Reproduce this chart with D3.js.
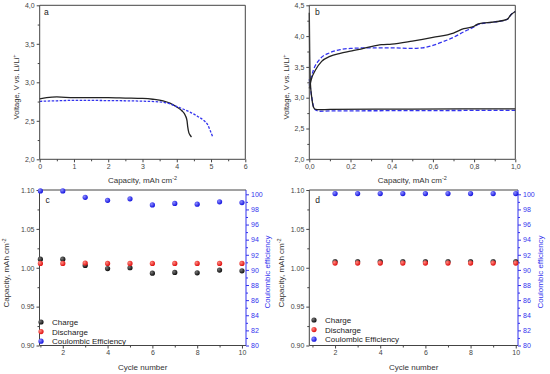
<!DOCTYPE html>
<html>
<head>
<meta charset="utf-8">
<script src="https://cdn.jsdelivr.net/npm/d3@7"></script>
<style>
body { margin: 0; background: #fff; }
text { font-family: "Liberation Sans", Arial, sans-serif; }
</style>
</head>
<body>
<script>
// panel a: discharge curves (capacity, voltage)
var aSolid = [[0, 2.785], [0.2, 2.80], [0.5, 2.81], [1.0, 2.80], [1.5, 2.80], [2.0, 2.80], [2.5, 2.795], [3.0, 2.79], [3.3, 2.78], [3.6, 2.76], [3.8, 2.73], [4.0, 2.68], [4.15, 2.63], [4.25, 2.57], [4.3, 2.5], [4.32, 2.42], [4.35, 2.35], [4.38, 2.32], [4.43, 2.29]];
var aDash = [[0, 2.753], [0.5, 2.76], [1.0, 2.765], [1.5, 2.765], [2.0, 2.762], [2.5, 2.76], [3.0, 2.755], [3.5, 2.745], [3.8, 2.72], [4.0, 2.685], [4.2, 2.65], [4.4, 2.61], [4.6, 2.56], [4.8, 2.5], [4.9, 2.45], [4.97, 2.38], [5.05, 2.29]];

// panel b: charge / discharge curves
var bSolidDis = [[0, 4.38], [0.002, 3.7], [0.005, 3.25], [0.012, 3.0], [0.02, 2.85], [0.03, 2.81], [0.05, 2.805], [0.1, 2.81], [0.5, 2.815], [1.0, 2.82]];
var bDashDis = [[0, 3.3], [0.01, 3.05], [0.02, 2.86], [0.03, 2.8], [0.05, 2.78], [0.1, 2.785], [0.5, 2.79], [1.0, 2.795]];
var bSolidCha = [[0, 3.15], [0.01, 3.3], [0.03, 3.45], [0.06, 3.59], [0.1, 3.67], [0.15, 3.72], [0.2, 3.755], [0.25, 3.79], [0.3, 3.83], [0.35, 3.86], [0.4, 3.87], [0.5, 3.92], [0.6, 3.98], [0.7, 4.05], [0.75, 4.12], [0.8, 4.16], [0.82, 4.2], [0.9, 4.23], [0.96, 4.27], [0.98, 4.35], [1.0, 4.4]];
var bDashCha = [[0, 3.2], [0.02, 3.45], [0.05, 3.62], [0.1, 3.73], [0.15, 3.78], [0.2, 3.8], [0.3, 3.81], [0.4, 3.81], [0.5, 3.8], [0.55, 3.81], [0.6, 3.85], [0.65, 3.91], [0.7, 3.98], [0.75, 4.07], [0.8, 4.15], [0.82, 4.19], [0.9, 4.23], [0.96, 4.27], [0.98, 4.35], [1.0, 4.4]];

// panel c: cycling
var cCycles = [1, 2, 3, 4, 5, 6, 7, 8, 9, 10];
var cCharge = [1.011, 1.011, 1.003, 0.999, 1.000, 0.993, 0.994, 0.9935, 0.997, 0.996];
var cDischarge = [1.0055, 1.0055, 1.006, 1.0055, 1.0055, 1.0055, 1.0055, 1.0055, 1.0055, 1.0055];
var cCE = [100.45, 100.45, 99.6, 99.2, 99.4, 98.6, 98.8, 98.7, 99.0, 98.9];

// panel d: cycling
var dCycles = [2, 3, 4, 5, 6, 7, 8, 9, 10];
var dCharge = [1.008, 1.008, 1.008, 1.008, 1.008, 1.008, 1.008, 1.008, 1.008];
var dDischarge = [1.006, 1.006, 1.006, 1.006, 1.006, 1.006, 1.006, 1.006, 1.006];
var dCE = [100.1, 100.1, 100.1, 100.1, 100.1, 100.1, 100.1, 100.1, 100.1];

var legendNames = ['Charge', 'Discharge', 'Coulombic Efficiency'];

var W = 550, H = 374;
var axisCol = '#444', blue = '#3333ee';
var fsTitle = 8, fsTick = 7;
var svg = d3.select('body').append('svg').attr('width', W).attr('height', H);

// shaded balls like origin scatter
var defs = svg.append('defs');
[['ballK', '#777', '#111'], ['ballR', '#ff8a80', '#e01010'], ['ballB', '#8c8cff', '#1515e0']].forEach(function (b) {
    var gr = defs.append('radialGradient').attr('id', b[0]).attr('cx', '35%').attr('cy', '35%').attr('r', '65%');
    gr.append('stop').attr('offset', '0%').attr('stop-color', b[1]);
    gr.append('stop').attr('offset', '100%').attr('stop-color', b[2]);
});

function comma(d) { return d3.format('.1f')(d).replace('.', ','); }

function styleAxis(g, col, fs) {
    g.select('.domain').remove();
    g.selectAll('line').attr('stroke', col);
    g.selectAll('text').attr('fill', col).style('font-size', fs + 'px');
}

function xAxis(x, y1, major, minor, fmt) {
    var g = svg.append('g').attr('transform', 'translate(0,' + y1 + ')')
        .call(d3.axisBottom(x).tickValues(major).tickSize(3).tickPadding(2).tickFormat(fmt));
    styleAxis(g, axisCol, fsTick);
    var m = svg.append('g').attr('transform', 'translate(0,' + y1 + ')')
        .call(d3.axisBottom(x).tickValues(minor).tickSize(2).tickFormat(''));
    styleAxis(m, axisCol, fsTick);
}

function yAxis(y, x0, major, minor, fmt, right, col) {
    var ax = right ? d3.axisRight : d3.axisLeft;
    var g = svg.append('g').attr('transform', 'translate(' + x0 + ',0)')
        .call(ax(y).tickValues(major).tickSize(3).tickPadding(2).tickFormat(fmt));
    styleAxis(g, col, fsTick);
    var m = svg.append('g').attr('transform', 'translate(' + x0 + ',0)')
        .call(ax(y).tickValues(minor).tickSize(2).tickFormat(''));
    styleAxis(m, col, fsTick);
}

function frame(x0, x1, y0, y1, rightCol) {
    svg.append('path').attr('d', 'M' + x1 + ',' + y0 + 'H' + x0 + 'V' + y1 + 'H' + x1)
        .attr('fill', 'none').attr('stroke', axisCol).attr('stroke-width', 1);
    svg.append('line').attr('x1', x1).attr('x2', x1).attr('y1', y0).attr('y2', y1)
        .attr('stroke', rightCol || axisCol).attr('stroke-width', 1);
}

function label(x, y, txt) {
    svg.append('text').attr('x', x).attr('y', y).attr('font-size', 8.5).attr('fill', '#222').text(txt);
}

function capTitle(cx, cy, rot, col) {
    var t = svg.append('text').attr('text-anchor', 'middle').attr('font-size', fsTitle).attr('fill', col)
        .attr('transform', 'translate(' + cx + ',' + cy + ')' + (rot ? ' rotate(-90)' : ''));
    t.append('tspan').text('Capacity, mAh cm');
    t.append('tspan').attr('baseline-shift', 'super').attr('font-size', 5.5).text('-2');
}

function voltTitle(cx, cy) {
    var t = svg.append('text').attr('text-anchor', 'middle').attr('font-size', 7.5).attr('fill', '#333')
        .attr('transform', 'translate(' + cx + ',' + cy + ') rotate(-90)');
    t.append('tspan').text('Voltage, V vs. Li/Li');
    t.append('tspan').attr('baseline-shift', 'super').attr('font-size', 5.5).text('+');
}

function curve(x, y, data, col, dash) {
    var line = d3.line().x(function (d) { return x(d[0]); }).y(function (d) { return y(d[1]); }).curve(d3.curveMonotoneX);
    svg.append('path').datum(data).attr('d', line).attr('fill', 'none').attr('stroke', col)
        .attr('stroke-width', 1.3).attr('stroke-dasharray', dash || null);
}

// ---------- panel a ----------
var ax0 = 39.7, ax1 = 245.3, ay0 = 5.3, ay1 = 159.3;
var xa = d3.scaleLinear().domain([0, 6]).range([ax0, ax1]);
var ya = d3.scaleLinear().domain([2, 4]).range([ay1, ay0]);
curve(xa, ya, aSolid, '#222');
curve(xa, ya, aDash, blue, '2.5,1.5');
frame(ax0, ax1, ay0, ay1);
xAxis(xa, ay1, d3.range(0, 7, 1), d3.range(0.5, 6, 1), d3.format('d'));
yAxis(ya, ax0, d3.range(2, 4.01, 0.5), d3.range(2.25, 4, 0.5), comma, false, axisCol);
label(44, 15, 'a');
capTitle((ax0 + ax1) / 2, 183, false, '#333');
voltTitle(19, 87);

// ---------- panel b ----------
var bx0 = 309.3, bx1 = 515.3;
var xb = d3.scaleLinear().domain([0, 1]).range([bx0, bx1]);
var yb = d3.scaleLinear().domain([2, 4.5]).range([ay1, ay0]);
curve(xb, yb, bDashDis, blue, '4,2');
curve(xb, yb, bDashCha, blue, '4,2');
curve(xb, yb, bSolidDis, '#222');
curve(xb, yb, bSolidCha, '#222');
frame(bx0, bx1, ay0, ay1);
xAxis(xb, ay1, d3.range(0, 1.01, 0.2), d3.range(0.1, 1, 0.2), comma);
yAxis(yb, bx0, d3.range(2, 4.51, 0.5), d3.range(2.25, 4.5, 0.5), comma, false, axisCol);
label(315, 15, 'b');
capTitle((bx0 + bx1) / 2, 183, false, '#333');
voltTitle(289, 87);

// ---------- cycling panels ----------
var cy0 = 190, cy1 = 345.5;

function cyclePanel(x0, x1, xDom, cycles, charge, discharge, ce, legX, legY, letter, majorX, leftTitleX, rightTitleX) {
    var x = d3.scaleLinear().domain(xDom).range([x0, x1]);
    var y = d3.scaleLinear().domain([0.9, 1.1]).range([cy1, cy0]);
    var yr = d3.scaleLinear().domain([80, 100.57]).range([cy1, cy0]);
    frame(x0, x1, cy0, cy1, blue);
    xAxis(x, cy1, majorX, [1, 3, 5, 7, 9], d3.format('d'));
    yAxis(y, x0, d3.range(0.9, 1.101, 0.05), d3.range(0.925, 1.1, 0.05), d3.format('.2f'), false, axisCol);
    yAxis(yr, x1, d3.range(80, 100.1, 2), d3.range(81, 100, 2), d3.format('d'), true, blue);

    var series = [[charge, y, 'url(#ballK)'], [discharge, y, 'url(#ballR)'], [ce, yr, 'url(#ballB)']];
    series.forEach(function (s) {
        svg.append('g').selectAll('circle').data(cycles).enter().append('circle')
            .attr('cx', function (d) { return x(d); })
            .attr('cy', function (d, i) { return s[1](s[0][i]); })
            .attr('r', 2.6).attr('fill', s[2]);
    });

    legendNames.forEach(function (n, i) {
        var fills = ['url(#ballK)', 'url(#ballR)', 'url(#ballB)'];
        svg.append('circle').attr('cx', legX).attr('cy', legY + i * 9.6).attr('r', 2.6).attr('fill', fills[i]);
        svg.append('text').attr('x', legX + 11).attr('y', legY + i * 9.6 + 3).attr('font-size', fsTitle)
            .attr('fill', '#222').text(n);
    });

    label(x0 + 6, 203, letter);
    capTitle(leftTitleX, 273, true, '#333');
    svg.append('text').attr('text-anchor', 'middle').attr('font-size', fsTitle).attr('fill', blue)
        .attr('transform', 'translate(' + rightTitleX + ',272) rotate(-90)')
        .text('Coulombic efficiency');
    svg.append('text').attr('x', (x0 + x1) / 2).attr('y', 370).attr('text-anchor', 'middle')
        .attr('font-size', fsTitle).attr('fill', '#333').text('Cycle number');
}

cyclePanel(39.5, 246, [0.96, 10.18], cCycles, cCharge, cDischarge, cCE, 41, 322, 'c', [2, 4, 6, 8, 10], 9, 270);
cyclePanel(309.3, 518, [0.86, 10.1], dCycles, dCharge, dDischarge, dCE, 314, 320, 'd', [2, 4, 6, 8, 10], 284, 543);
</script>
</body>
</html>
